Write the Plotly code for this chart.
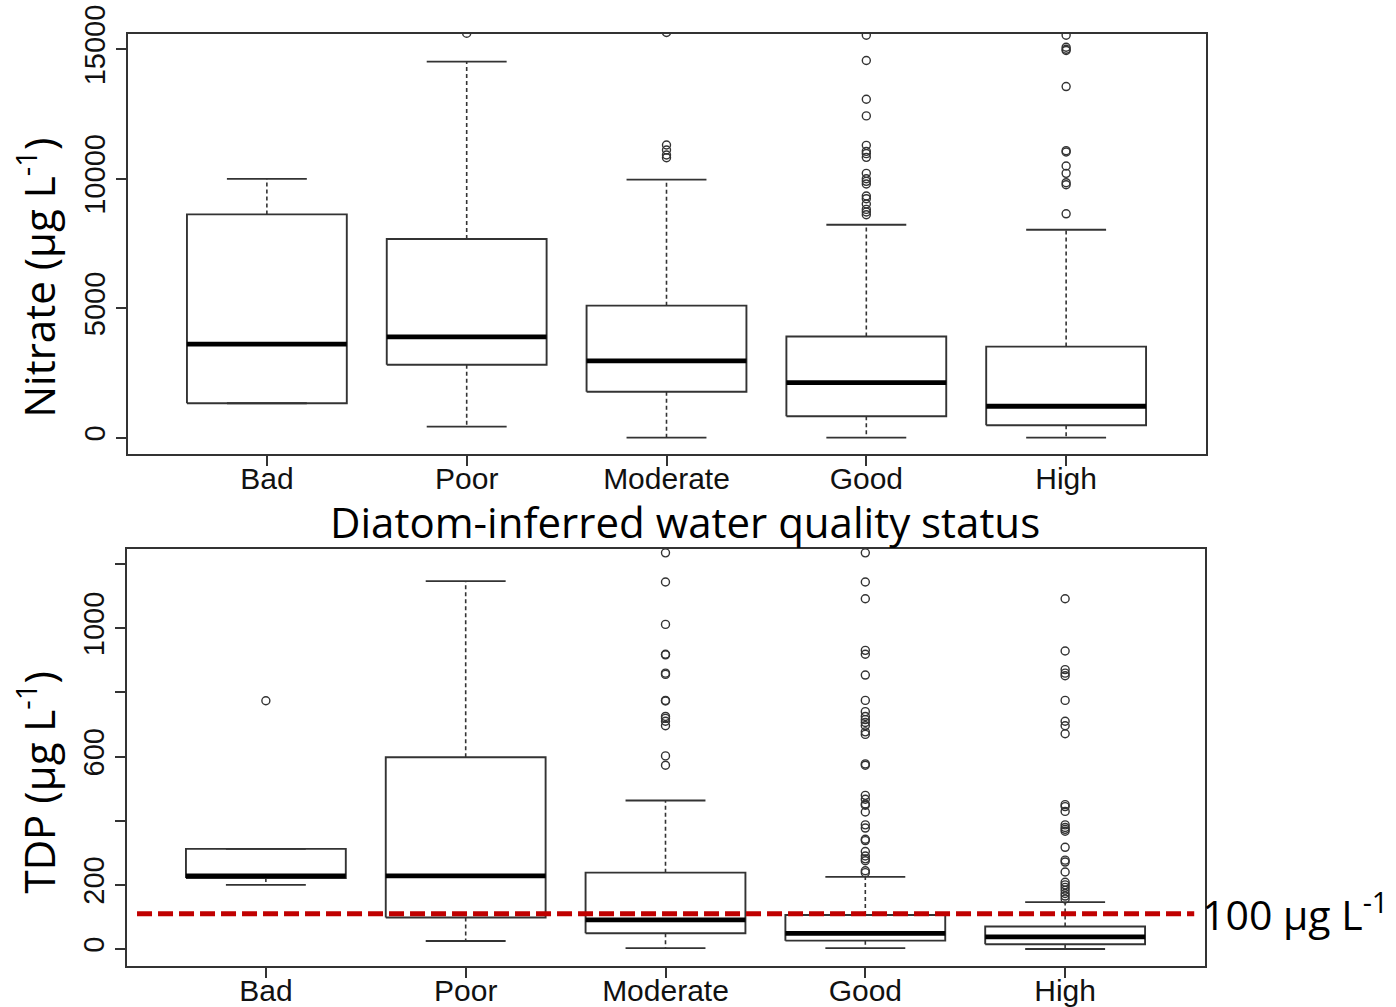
import plotly.graph_objects as go

# ---------------- data ----------------
categories = ["Bad", "Poor", "Moderate", "Good", "High"]

# Nitrate (µg L-1) box statistics
nitrate_lower = [1330, 425, 0, 0, 0]
nitrate_q1 = [1330, 2820, 1777, 828, 480]
nitrate_median = [3612, 3890, 2963, 2127, 1214]
nitrate_q3 = [8624, 7675, 5099, 3906, 3519]
nitrate_upper = [10000, 14523, 9966, 8225, 8032]
nitrate_outliers = [
    [],
    [15620],
    [10815, 10919, 11112, 11306, 15650],
    [8612, 8716, 8817, 9025, 9231, 9335, 9800, 9900, 10003, 10209, 10828,
     10971, 11060, 11292, 12428, 13071, 14567, 15545],
    [8647, 9771, 9849, 10209, 10495, 11036, 11086, 13562, 14954, 15004,
     15081, 15545],
]

# TDP (µg L-1) box statistics
tdp_lower = [200, 25, 3, 3, 0]
tdp_q1 = [221, 98, 49, 26, 15]
tdp_median = [228, 228, 91, 49, 38]
tdp_q3 = [312, 598, 238, 106, 70]
tdp_upper = [312, 1147, 463, 225, 146]
tdp_outliers = [
    [774],
    [],
    [573, 602, 696, 710, 719, 725, 773, 775, 856, 860, 917, 919, 1012,
     1144, 1235],
    [238, 244, 275, 281, 290, 304, 338, 342, 377, 387, 427, 448, 452, 467,
     479, 573, 577, 669, 677, 696, 706, 715, 725, 740, 775, 854, 919, 931,
     1092, 1144, 1235],
    [156, 165, 173, 183, 192, 200, 208, 240, 271, 277, 317, 367, 373, 379,
     387, 429, 444, 450, 671, 696, 710, 775, 852, 860, 871, 929, 1092],
]

tdp_threshold = 110
threshold_label = "100 µg L<sup>-1</sup>"

nitrate_ticks = [0, 5000, 10000, 15000]
nitrate_ticktext = ["0", "5000", "10000", "15000"]
tdp_ticks = [0, 200, 600, 1000]
tdp_ticktext = ["0", "200", "600", "1000"]
tdp_unlabelled_ticks = [400, 800, 1200]

# ---------------- styling ----------------
BOX_HALF = 0.4
CAP_HALF = 0.2
LINE_COL = "#333333"
AX_FONT = "Liberation Sans, Arial, sans-serif"
TXT_FONT = "Open Sans, sans-serif"

fig = go.Figure()


def add_boxes(xa, ya, lower, q1, med, q3, upper, outl):
    xs = list(range(1, len(categories) + 1))
    # whiskers (dashed)
    wx, wy = [], []
    for i, x in enumerate(xs):
        wx += [x, x, None, x, x, None]
        wy += [q3[i], upper[i], None, q1[i], lower[i], None]
    fig.add_trace(go.Scatter(x=wx, y=wy, mode="lines", xaxis=xa, yaxis=ya,
                             line=dict(color=LINE_COL, width=1.6, dash="4px,3px"),
                             showlegend=False, hoverinfo="skip"))
    # staples
    cx, cy = [], []
    for i, x in enumerate(xs):
        cx += [x - CAP_HALF, x + CAP_HALF, None, x - CAP_HALF, x + CAP_HALF, None]
        cy += [upper[i], upper[i], None, lower[i], lower[i], None]
    fig.add_trace(go.Scatter(x=cx, y=cy, mode="lines", xaxis=xa, yaxis=ya,
                             line=dict(color=LINE_COL, width=1.8),
                             showlegend=False, hoverinfo="skip"))
    # boxes
    bx, by = [], []
    for i, x in enumerate(xs):
        bx += [x - BOX_HALF, x + BOX_HALF, x + BOX_HALF, x - BOX_HALF, x - BOX_HALF, None]
        by += [q1[i], q1[i], q3[i], q3[i], q1[i], None]
    fig.add_trace(go.Scatter(x=bx, y=by, mode="lines", xaxis=xa, yaxis=ya,
                             line=dict(color=LINE_COL, width=1.9),
                             showlegend=False, hoverinfo="skip"))
    # medians
    mx, my = [], []
    for i, x in enumerate(xs):
        mx += [x - BOX_HALF, x + BOX_HALF, None]
        my += [med[i], med[i], None]
    fig.add_trace(go.Scatter(x=mx, y=my, mode="lines", xaxis=xa, yaxis=ya,
                             line=dict(color="#000000", width=4.8),
                             showlegend=False, hoverinfo="skip"))
    # outliers
    ox, oy = [], []
    for i, x in enumerate(xs):
        for v in outl[i]:
            ox.append(x)
            oy.append(v)
    fig.add_trace(go.Scatter(x=ox, y=oy, mode="markers", xaxis=xa, yaxis=ya,
                             marker=dict(symbol="circle-open", size=8,
                                         color="#333333", line=dict(width=1.4)),
                             showlegend=False, hoverinfo="skip"))


add_boxes("x", "y", nitrate_lower, nitrate_q1, nitrate_median, nitrate_q3,
          nitrate_upper, nitrate_outliers)
add_boxes("x2", "y2", tdp_lower, tdp_q1, tdp_median, tdp_q3, tdp_upper,
          tdp_outliers)

W, H = 1396, 1007

common_x = dict(tickvals=list(range(1, 6)), ticktext=categories,
                range=[0.305, 5.70], showgrid=False, zeroline=False,
                showline=True, mirror=True, linecolor=LINE_COL, linewidth=1.8,
                ticks="outside", ticklen=10, tickwidth=1.6, tickcolor=LINE_COL,
                automargin=False, ticklabelstandoff=-13,
                tickfont=dict(family=AX_FONT, size=30, color="#111111"))
common_y = dict(showgrid=False, zeroline=False, showline=True, mirror=True,
                linecolor=LINE_COL, linewidth=1.8, ticks="outside", ticklen=10,
                tickwidth=1.6, tickcolor=LINE_COL, tickangle=-90,
                automargin=False,
                tickfont=dict(family=AX_FONT, size=29, color="#111111"))

fig.update_layout(
    width=W, height=H, autosize=False,
    margin=dict(l=0, r=0, t=0, b=0, autoexpand=False),
    paper_bgcolor="white", plot_bgcolor="white",
    xaxis=dict(domain=[128 / W, 1206 / W], anchor="y", **common_x),
    yaxis=dict(domain=[(H - 454) / H, (H - 34) / H], anchor="x",
               range=[-630, 15592], tickvals=nitrate_ticks,
               ticktext=nitrate_ticktext, **common_y),
    xaxis2=dict(domain=[127 / W, 1205 / W], anchor="y2", **common_x),
    yaxis2=dict(domain=[(H - 966) / H, (H - 549) / H], anchor="x2",
                range=[-53, 1247], tickvals=tdp_ticks,
                ticktext=tdp_ticktext,
                minor=dict(tickvals=tdp_unlabelled_ticks, ticks="outside",
                           ticklen=10, tickwidth=1.6, tickcolor=LINE_COL,
                           showgrid=False),
                **common_y),
)

# threshold line
fig.add_shape(type="line", xref="x2 domain", yref="y2",
              x0=0.0093, x1=0.99, y0=tdp_threshold, y1=tdp_threshold,
              line=dict(color="#C00000", width=5, dash="15px,6px"), layer="above")

annotations = [
    dict(text="Nitrate (µg L<sup>-1</sup>)", x=37 / W, y=1 - 277.5 / H,
         textangle=-90),
    dict(text="TDP (µg L<sup>-1</sup>)", x=37 / W, y=1 - 782.5 / H,
         textangle=-90),
    dict(text="Diatom-inferred water quality status", x=684.5 / W,
         y=1 - 521 / H),
]
for a in annotations:
    fig.add_annotation(xref="paper", yref="paper", showarrow=False,
                       xanchor="center", yanchor="middle",
                       font=dict(family=TXT_FONT, size=42, color="#000000"), **a)

fig.add_annotation(xref="paper", yref="paper", showarrow=False,
                   text=threshold_label, x=1200 / W, y=1 - 912 / H,
                   xanchor="left", yanchor="middle",
                   font=dict(family=TXT_FONT, size=41, color="#000000"))

fig.write_html("out.html")
